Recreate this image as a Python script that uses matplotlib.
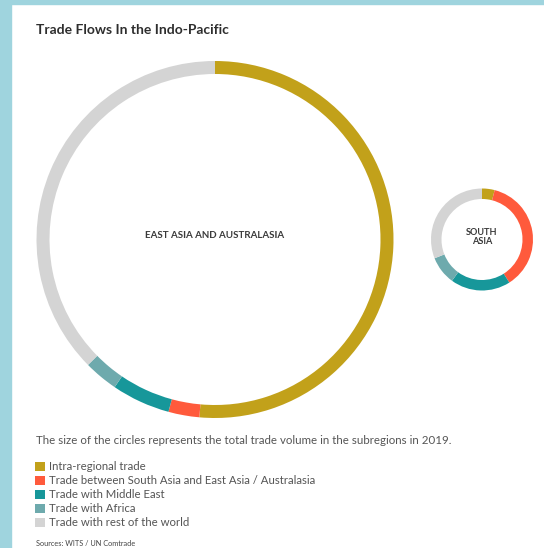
import matplotlib
matplotlib.use("Agg")
import matplotlib.pyplot as plt
from matplotlib.patches import Rectangle

plt.rcParams['font.family'] = ['Lato', 'DejaVu Sans']

# Trade shares (%) per subregion, clockwise from 12 o'clock
categories = ['Intra-regional trade',
              'Trade between South Asia and East Asia / Australasia',
              'Trade with Middle East',
              'Trade with Africa',
              'Trade with rest of the world']
east_asia = [51.4, 2.8, 5.3, 3.1, 37.4]
south_asia = [4.0, 37.0, 19.0, 9.0, 31.0]
colors = ['#c2a11a', '#ff5a3c', '#17979a', '#6eaaad', '#d4d4d4']

W, H = 544, 548
fig = plt.figure(figsize=(W / 100, H / 100), dpi=100)
ax = fig.add_axes([0, 0, 1, 1])

def py(y):
    # pixel row -> data y (origin at bottom)
    return H - y

# big circle: East Asia and Australasia
ax.pie(east_asia, colors=colors, startangle=90, counterclock=False,
       center=(215, py(239.5)), radius=178.5,
       wedgeprops=dict(width=13, linewidth=0))
# small circle: South Asia
ax.pie(south_asia, colors=colors, startangle=90, counterclock=False,
       center=(482, py(239.5)), radius=51,
       wedgeprops=dict(width=10.5, linewidth=0))

ax.set_xlim(0, W)
ax.set_ylim(0, H)
ax.set_aspect('equal')
ax.axis('off')

# light blue frame on left and top
fig.patches.append(Rectangle((0, 0), 11 / W, 1, transform=fig.transFigure,
                             color='#9fd4de', zorder=-1))
fig.patches.append(Rectangle((0, 1 - 4 / H), 1, 4 / H, transform=fig.transFigure,
                             color='#9fd4de', zorder=-1))

ax.text(36, py(30), 'Trade Flows In the Indo-Pacific', fontsize=10,
        fontweight='bold', color='#2e2e2e', va='center', ha='left')

ax.text(215, py(235), 'EAST ASIA AND AUSTRALASIA', fontsize=7,
        fontweight='bold', color='#3a3a3a', ha='center', va='center')
ax.text(482, py(237), 'SOUTH\nASIA', fontsize=6.6, fontweight='bold',
        color='#3a3a3a', ha='center', va='center', linespacing=1.0)

ax.text(36, py(440), 'The size of the circles represents the total trade volume '
        'in the subregions in 2019.', fontsize=8.3, color='#555555',
        ha='left', va='center')

rows = [466.5, 480.5, 494.5, 508.5, 522.5]
for y, label, c in zip(rows, categories, colors):
    ax.add_patch(Rectangle((35, py(y) - 4.5), 9.5, 9.5, color=c, linewidth=0))
    ax.text(49, py(y), label, fontsize=8.2, color='#555555',
            ha='left', va='center')

ax.text(36, py(544), 'Sources: WITS / UN Comtrade', fontsize=5.3,
        color='#444444', ha='left', va='center')

fig.savefig('out.png', dpi=100, facecolor='white')
